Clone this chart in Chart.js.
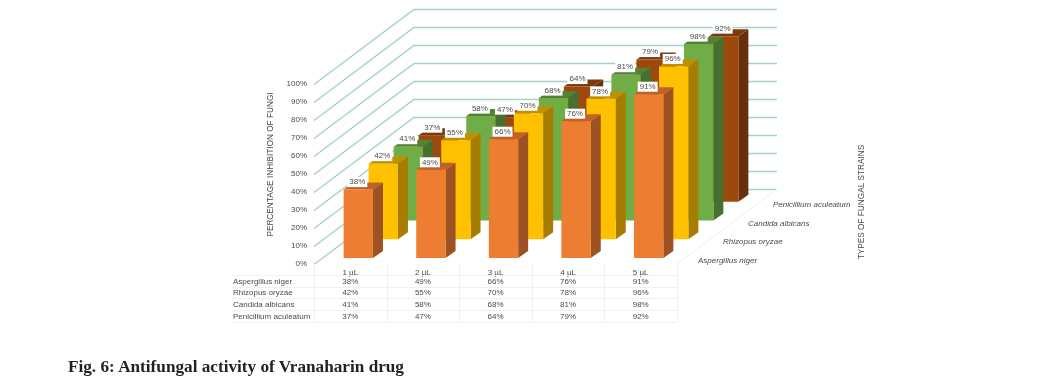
<!DOCTYPE html>
<html><head><meta charset="utf-8">
<style>
html,body{margin:0;padding:0;background:#fff;}
#wrap{position:relative;width:1047px;height:381px;overflow:hidden;}
canvas{position:absolute;left:0;top:0;}
#cap{position:absolute;left:68px;top:357px;font:bold 17.2px "Liberation Serif",serif;line-height:20px;color:#222;white-space:nowrap;}
</style>
<script src="https://cdn.jsdelivr.net/npm/chart.js@4/dist/chart.umd.min.js"></script>
</head><body>
<div id="wrap"><canvas id="c" width="1047" height="381"></canvas>
<div id="cap">Fig. 6: Antifungal activity of Vranaharin drug</div></div>
<script>
const categories = ['1 µL','2 µL','3 µL','4 µL','5 µL'];
const seriesNames = ['Aspergillus niger','Rhizopus oryzae','Candida albicans','Penicillium aculeatum'];
const aspergillus = [38,49,66,76,91];
const rhizopus = [42,55,70,78,96];
const candida = [41,58,68,81,98];
const penicillium = [37,47,64,79,92];
const seriesValues = [aspergillus,rhizopus,candida,penicillium];
const yTitle = 'PERCENTAGE INHIBITION OF FUNGI';
const zTitle = 'TYPES OF FUNGAL STRAINS';

const front = ['#ED7D31','#FFC000','#70AD47','#9E480E'];
const side  = ['#9C5222','#A67D00','#47702E','#67300A'];
const top_  = ['#C2602A','#BF9000','#548235','#7C3A0D'];
const DEPTH_X = 100, DEPTH_Y = 75, CAP_X = 10, CAP_Y = 7, START_X = 8, START_Y = 6;
const STEP_X = 25, STEP_Y = 18.75;
const GRID = '#A3D2CE', FAINT = '#F0F0F0', TXT = '#4a4a4a';
const FONT = '8px "Liberation Sans",Arial,sans-serif';
const TITLE_FONT = '8.25px "Liberation Sans",Arial,sans-serif';
const ITALIC = 'italic 8px "Liberation Sans",Arial,sans-serif';
const shift = i => [START_X + STEP_X*i, START_Y + STEP_Y*i];

const plugin3d = {
  id:'plugin3d',
  beforeDatasetsDraw(chart){
    const {ctx, scales:{x,y}} = chart;
    const L = x.left, R = x.right;
    ctx.save();
    ctx.strokeStyle = GRID; ctx.lineWidth = 1.5;
    y.ticks.forEach(t=>{
      const p = Math.round(y.getPixelForValue(t.value))+0.5;
      ctx.beginPath();
      ctx.moveTo(L,p); ctx.lineTo(L+DEPTH_X,p-DEPTH_Y); ctx.lineTo(R+DEPTH_X,p-DEPTH_Y);
      ctx.stroke();
    });
    // floor edge
    const b = y.getPixelForValue(0);
    ctx.strokeStyle = FAINT; ctx.lineWidth = 1;
    ctx.beginPath(); ctx.moveTo(R,b); ctx.lineTo(R+DEPTH_X,b-DEPTH_Y); ctx.stroke();
    // table rules
    const rowTop = b+11, rowH = 11.7, tableLeft = 232;
    x.getLabels().forEach((_,i)=>{
      const cw = x.getPixelForValue(1)-x.getPixelForValue(0);
      const vx = Math.round(x.getPixelForValue(i)-cw/2)+.5;
      ctx.beginPath(); ctx.moveTo(vx,b); ctx.lineTo(vx,rowTop+rowH*4); ctx.stroke();
    });
    ctx.beginPath(); ctx.moveTo(R+.5,b); ctx.lineTo(R+.5,rowTop+rowH*4); ctx.stroke();
    for(let r=0;r<=4;r++){
      const h = Math.round(rowTop+rowH*r)+.5;
      ctx.beginPath(); ctx.moveTo(tableLeft,h); ctx.lineTo(R,h); ctx.stroke();
    }
    // table text
    ctx.font = FONT; ctx.fillStyle = TXT; ctx.textBaseline='middle';
    seriesNames.forEach((n,r)=>{
      const h = rowTop+rowH*(r+.5)+0.5;
      ctx.textAlign='left'; ctx.fillText(n,tableLeft+1,h);
      ctx.textAlign='center';
      seriesValues[r].forEach((v,i)=>ctx.fillText(v+'%',x.getPixelForValue(i),h));
    });
    // depth axis labels
    ctx.font = ITALIC; ctx.textAlign='left';
    seriesNames.forEach((n,i)=>{
      const [dx,dy] = shift(i);
      ctx.fillText(n,R+13+dx,b+3-dy);
    });
    // axis titles
    ctx.font = TITLE_FONT; ctx.textAlign='center';
    ctx.save(); ctx.translate(861.5,202); ctx.rotate(-Math.PI/2); ctx.fillText(zTitle,0,0); ctx.restore();
    ctx.save(); ctx.translate(270.5,164.5); ctx.rotate(-Math.PI/2); ctx.fillText(yTitle,0,0); ctx.restore();
    ctx.restore();
  },
  beforeDatasetDraw(chart,args){
    const {ctx} = chart, i = args.index, [dx,dy] = shift(i);
    ctx.save(); ctx.translate(dx,-dy);
    args.meta.data.forEach(el=>{
      const p = el.getProps(['x','y','base','width'],true);
      const l = p.x-p.width/2, r = p.x+p.width/2, t = p.y, b = p.base;
      ctx.fillStyle = side[i];
      ctx.beginPath(); ctx.moveTo(r,t); ctx.lineTo(r+CAP_X,t-CAP_Y); ctx.lineTo(r+CAP_X,b-CAP_Y); ctx.lineTo(r,b); ctx.closePath(); ctx.fill();
      ctx.fillStyle = top_[i];
      ctx.beginPath(); ctx.moveTo(l,t); ctx.lineTo(l+CAP_X,t-CAP_Y); ctx.lineTo(r+CAP_X,t-CAP_Y); ctx.lineTo(r,t); ctx.closePath(); ctx.fill();
    });
  },
  afterDatasetDraw(chart){ chart.ctx.restore(); },
  afterDatasetsDraw(chart){
    const {ctx} = chart;
    ctx.save();
    ctx.font = FONT; ctx.textAlign='center'; ctx.textBaseline='middle';
    for(let i=chart.data.datasets.length-1;i>=0;i--){
      const [dx,dy] = shift(i);
      chart.getDatasetMeta(i).data.forEach((el,k)=>{
        const p = el.getProps(['x','y'],true);
        const cx = p.x+dx-1, cy = p.y-dy-7.5;
        const s = seriesValues[i][k]+'%';
        ctx.fillStyle='#fff'; ctx.fillRect(cx-10,cy-5,20,10);
        ctx.fillStyle=TXT; ctx.fillText(s,cx,cy);
      });
    }
    ctx.restore();
  }
};

new Chart(document.getElementById('c'),{
  type:'bar',
  data:{labels:categories,datasets:seriesNames.map((n,i)=>({
    label:n,data:seriesValues[i],backgroundColor:front[i],borderWidth:0,
    grouped:false,barPercentage:0.404,categoryPercentage:1,clip:false
  }))},
  plugins:[plugin3d],
  options:{
    responsive:false,animation:false,
    layout:{padding:{left:264,right:370,top:84,bottom:97}},
    plugins:{legend:{display:false},tooltip:{enabled:false},title:{display:false}},
    scales:{
      x:{
        grid:{display:false,drawTicks:false},border:{display:false},
        afterFit:s=>{s.height=20;},
        ticks:{font:{family:'"Liberation Sans",Arial,sans-serif',size:8},color:TXT,padding:4,maxRotation:0}
      },
      y:{
        min:0,max:100,
        grid:{display:false,drawTicks:false},border:{display:false},
        afterFit:s=>{s.width=50;},
        ticks:{stepSize:10,callback:v=>v+'%',font:{family:'"Liberation Sans",Arial,sans-serif',size:8},color:TXT,padding:7}
      }
    }
  }
});
</script>
</body></html>
